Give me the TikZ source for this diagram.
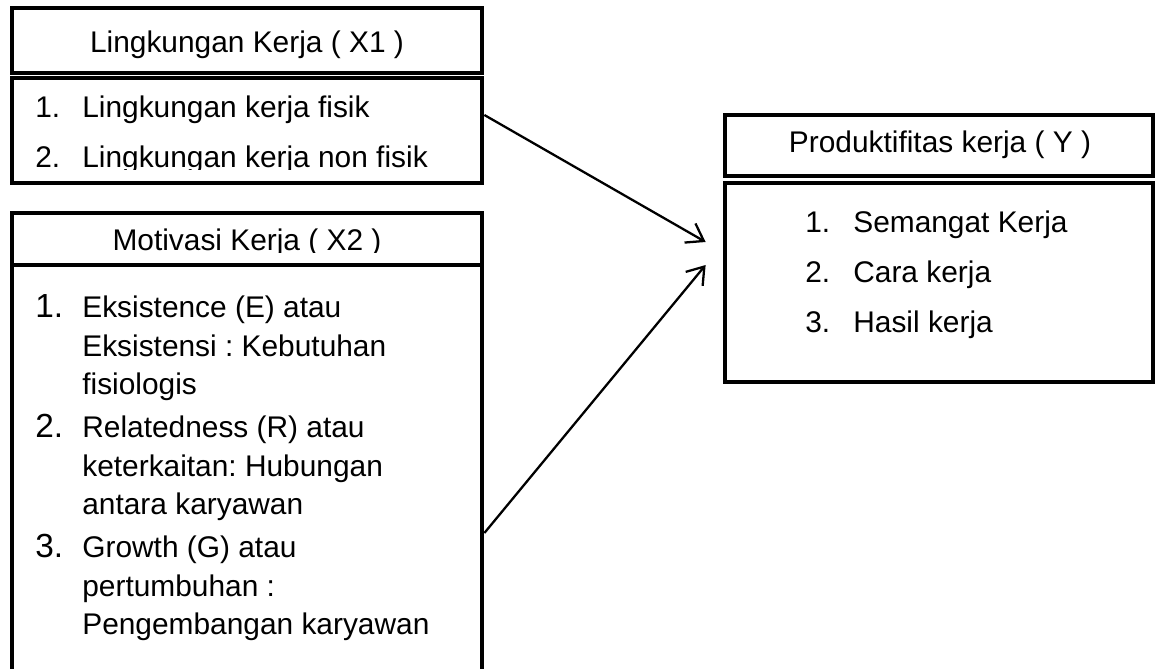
\documentclass[tikz,border=0pt]{standalone}
\usepackage{fontspec}
\setmainfont{Liberation Sans}
\usetikzlibrary{arrows.meta}
\frenchspacing

\begin{document}
\begin{tikzpicture}[
  box/.style={draw, rectangle, line width=2.7pt, inner sep=0pt},
  txt/.style={inner sep=0pt, font=\fontsize{17}{22}\selectfont},
  arr/.style={line width=1.3pt, -{Straight Barb[length=0.32cm,width=0.44cm]}}
]
\useasboundingbox (0,0) rectangle (23.12,13.36);
\clip (0,0) rectangle (23.12,13.36);

% --- X1 : header and body ---
\node[box, minimum width=9.4cm, minimum height=1.30cm] (x1h) at (4.94,12.55) {};
\node[box, minimum width=9.4cm, minimum height=2.10cm] (x1b) at (4.94,10.75) {};
\node[txt, anchor=base] (x1t) at (4.94,12.30) {Lingkungan Kerja ( X1 )};
\begin{scope}
  \clip (0,9.96) rectangle (9.64,11.8);
  \node[txt, anchor=base west, font=\fontsize{17}{27.9}\selectfont] (x1l) at (0.70,11.00)
    {\begin{tabular}[t]{@{}p{0.94cm}@{}l@{}}
      1. & Lingkungan kerja fisik\\
      2. & Lingkungan kerja non fisik
    \end{tabular}};
\end{scope}

% --- X2 : header and body ---
\node[box, minimum width=9.4cm, minimum height=1.04cm] (x2h) at (4.94,8.58) {};
\node[box, minimum width=9.4cm, minimum height=8.56cm] (x2b) at (4.94,3.78) {};
\begin{scope}
  \clip (0,8.30) rectangle (9.64,9.10);
  \node[txt, anchor=base] (x2t) at (4.94,8.34) {Motivasi Kerja ( X2 )};
\end{scope}
\node[txt, anchor=base west, font=\fontsize{17}{21.9}\selectfont] (x2l) at (0.70,7.00)
  {\begin{tabular}[t]{@{}p{0.94cm}@{}l@{}}
    {\fontsize{19}{21.9}\selectfont 1.} & Eksistence (E) atau\\
       & Eksistensi : Kebutuhan\\
       & fisiologis\\[0.09cm]
    {\fontsize{19}{21.9}\selectfont 2.} & Relatedness (R) atau\\
       & keterkaitan: Hubungan\\
       & antara karyawan\\[0.09cm]
    {\fontsize{19}{21.9}\selectfont 3.} & Growth (G) atau\\
       & pertumbuhan :\\
       & Pengembangan karyawan
  \end{tabular}};

% --- Y : header and body ---
\node[box, minimum width=8.56cm, minimum height=1.22cm] (yh) at (18.78,10.45) {};
\node[box, minimum width=8.56cm, minimum height=3.98cm] (yb) at (18.78,7.71) {};
\node[txt, anchor=base] (yt) at (18.80,10.30) {Produktifitas kerja ( Y )};
\node[txt, anchor=base west, font=\fontsize{17}{28.45}\selectfont] (yl) at (16.10,8.70)
  {\begin{tabular}[t]{@{}p{0.96cm}@{}l@{}}
    1. & Semangat Kerja\\
    2. & Cara kerja\\
    3. & Hasil kerja
  \end{tabular}};

% --- arrows into Y ---
\draw[arr] ([yshift=0.31cm]x1b.east) -- ([xshift=-0.34cm,yshift=0.81cm]yb.west);
\draw[arr] ([yshift=-1.08cm]x2b.east) -- ([xshift=-0.34cm,yshift=0.35cm]yb.west);

\end{tikzpicture}
\end{document}
